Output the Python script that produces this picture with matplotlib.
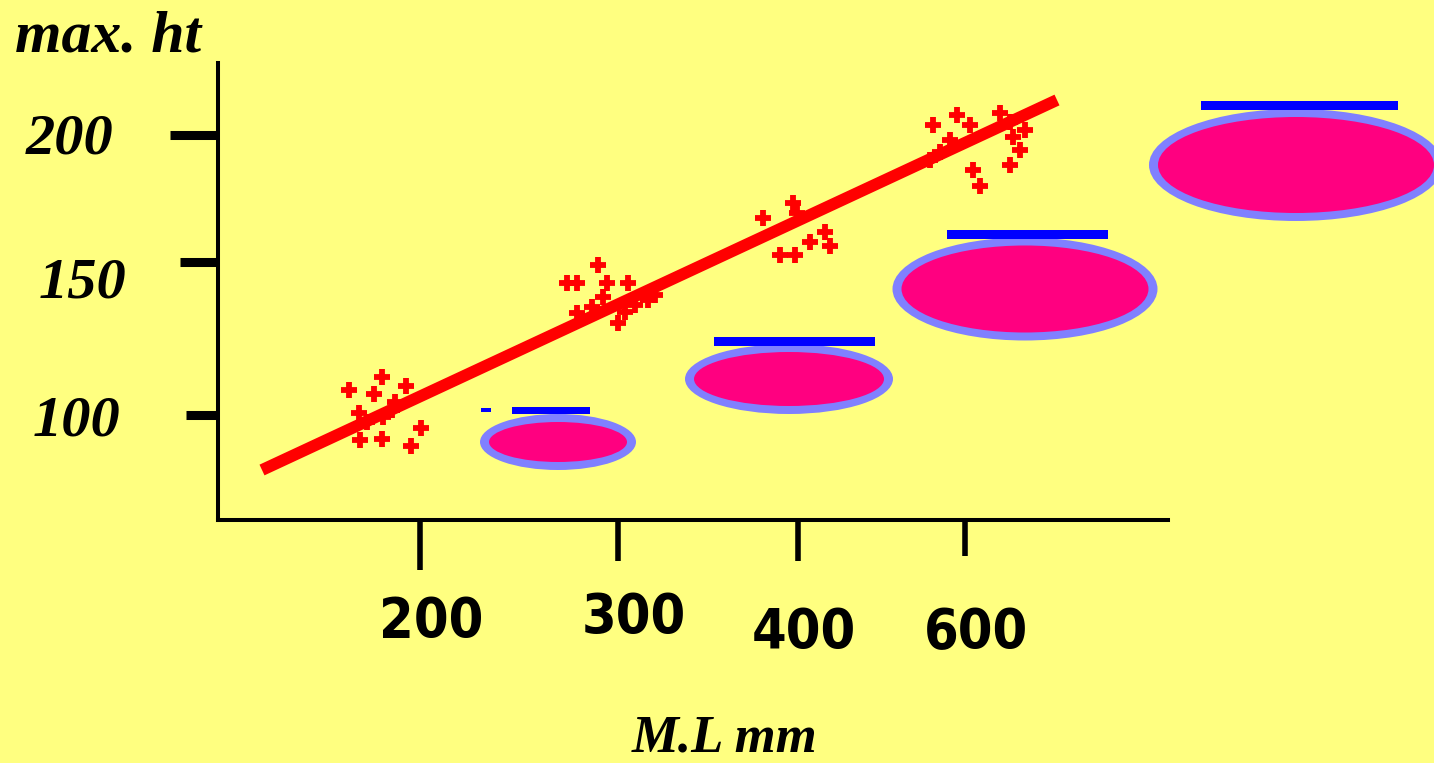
import numpy as np
import matplotlib.pyplot as plt
from matplotlib.patches import Ellipse

# schematic scale: positions measured along the drawn axes, ticks only label them
x_ticks = [202, 400, 580, 747]
x_labels = ['200', '300', '400', '600']
y_ticks = [105, 258, 385]
y_labels = ['100', '150', '200']

# fitted line (two ends)
line_x = [44, 839]
line_y = [50, 420]

# single measurements (+), four groups along the line
pts_x = [164, 131, 188, 156, 177, 141, 203, 164, 193, 142, 149, 165, 174,
         380, 349, 359, 389, 410, 385, 359, 400, 374, 417, 430, 437, 407,
         575, 545, 607, 592, 612, 562, 577, 579,
         715, 739, 752, 755, 762, 792, 782, 732, 712, 722, 795, 802, 792, 807]
pts_y = [143, 130, 134, 126, 118, 107, 92, 81, 74, 80, 98, 103, 110,
         255, 237, 237, 237, 237, 223, 207, 197, 213, 215, 220, 225, 208,
         317, 302, 288, 278, 274, 265, 265, 307,
         395, 405, 395, 350, 334, 355, 407, 380, 360, 368, 383, 370, 398, 390]

# size classes drawn as ellipses
ell_x = [340, 571, 807, 1078]
ell_y = [78, 141, 231, 355]
ell_w = [156, 208, 265, 294]
ell_h = [56, 70, 103, 112]

# range bars sitting on the ellipses
bar_left = [294, 263, 496, 729, 983]
bar_right = [372, 273, 657, 890, 1180]
bar_y = [106, 108, 174, 281, 410]
bar_h = [7, 4, 9, 9, 9]

bg = '#FFFF80'
red = '#FF0000'
pink = '#FF0080'
lav = '#8080FF'
blue = '#0000FF'

W, H = 1434, 763
fig = plt.figure(figsize=(W / 100, H / 100), dpi=100, facecolor=bg)
ax = fig.add_axes([218 / W, (H - 520) / H, 950 / W, 457 / H])
ax.set_facecolor(bg)
ax.patch.set_alpha(0)
ax.set_xlim(0, 950)
ax.set_ylim(0, 457)

for s in ['top', 'right']:
    ax.spines[s].set_visible(False)
for s in ['left', 'bottom']:
    ax.spines[s].set_linewidth(2.9)
    ax.spines[s].set_color('black')

ax.set_xticks(x_ticks)
ax.set_yticks(y_ticks)
ax.tick_params(axis='x', direction='out', width=4, length=30, labelbottom=False)
ax.tick_params(axis='y', direction='out', width=6.5, length=30, labelleft=False)
for t, L in zip(ax.xaxis.get_major_ticks(), [36, 29.5, 29.5, 26]):
    t.tick1line.set_markersize(L)
for t, L in zip(ax.yaxis.get_major_ticks(), [23, 27.4, 34.6]):
    t.tick1line.set_markersize(L)

# tick labels, placed off each tick
x_off = [(11, -102), (16, -98), (6, -113), (11, -113)]
for pos, lab, (dx, dy) in zip(x_ticks, x_labels, x_off):
    ax.annotate(lab, xy=(pos, 0), xytext=(dx, dy), textcoords='offset pixels',
                ha='center', va='center', fontsize=40, fontweight='bold',
                fontstretch='condensed', family=['DejaVu Sans'], annotation_clip=False)
y_off = [(-141, -7), (-136, -22), (-148, -4)]
for pos, lab, (dx, dy) in zip(y_ticks, y_labels, y_off):
    ax.annotate(lab, xy=(0, pos), xytext=(dx, dy), textcoords='offset pixels',
                ha='center', va='center', fontsize=42, fontweight='bold', style='italic',
                family=['Liberation Serif', 'DejaVu Serif'], annotation_clip=False)

# ellipses: lavender rim, pink fill
for cx, cy, w, h in zip(ell_x, ell_y, ell_w, ell_h):
    ax.add_patch(Ellipse((cx, cy), w, h, facecolor=lav, edgecolor='none', clip_on=False))
    ax.add_patch(Ellipse((cx, cy), w - 18, h - 16, facecolor=pink, edgecolor='none', clip_on=False))

ax.barh(bar_y, np.array(bar_right) - np.array(bar_left), left=bar_left, height=bar_h,
        align='edge', color=blue, clip_on=False)

ax.plot(line_x, line_y, color=red, lw=8.5, solid_capstyle='butt', clip_on=False)
ax.scatter(pts_x, pts_y, marker='+', s=140, linewidths=4.2, color=red, clip_on=False)

fig.text(15 / W, 1 - 52 / H, 'max. ht', fontsize=43, fontweight='bold', style='italic',
         family=['Liberation Serif', 'DejaVu Serif'], va='baseline', ha='left')
fig.text(632 / W, 1 - 752 / H, 'M.L mm', fontsize=38, fontweight='bold', style='italic',
         family=['Liberation Serif', 'DejaVu Serif'], va='baseline', ha='left')

fig.savefig('out.png', dpi=100, facecolor=bg)
